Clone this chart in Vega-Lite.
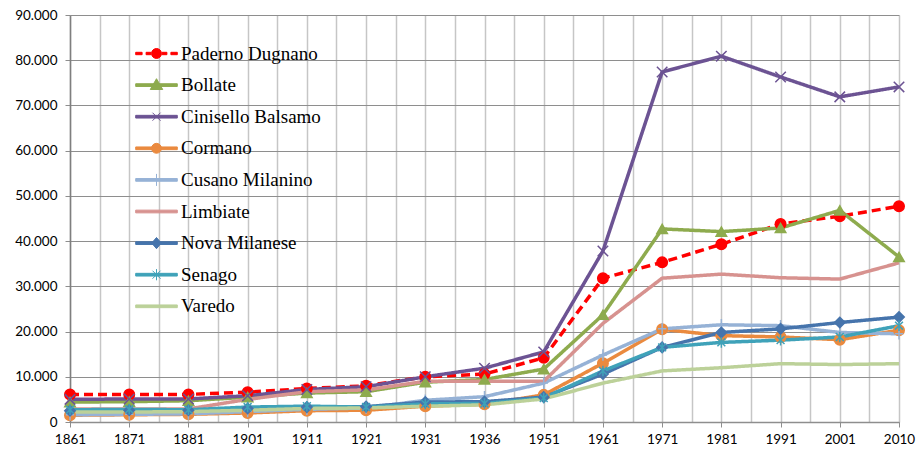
{
  "$schema": "https://vega.github.io/schema/vega-lite/v6.json",
  "width": 829,
  "height": 407,
  "autosize": {"type": "none"},
  "padding": {"left": 70, "top": 15, "right": 18, "bottom": 28},
  "background": "white",
  "config": {
    "view": {"stroke": null},
    "legend": {"labelFont": "Liberation Serif", "labelFontSize": 19, "labelColor": "#000000"},
    "locale": {"number": {"decimal": ",", "thousands": ".", "grouping": [3], "currency": ["", " €"]}}
  },
  "datasets": {
    "pop": [
      {"city": "Paderno Dugnano", "year": "1861", "pop": 6100}, {"city": "Paderno Dugnano", "year": "1871", "pop": 6100}, {"city": "Paderno Dugnano", "year": "1881", "pop": 6100}, {"city": "Paderno Dugnano", "year": "1901", "pop": 6600}, {"city": "Paderno Dugnano", "year": "1911", "pop": 7400}, {"city": "Paderno Dugnano", "year": "1921", "pop": 8000}, {"city": "Paderno Dugnano", "year": "1931", "pop": 10000}, {"city": "Paderno Dugnano", "year": "1936", "pop": 10600}, {"city": "Paderno Dugnano", "year": "1951", "pop": 14200}, {"city": "Paderno Dugnano", "year": "1961", "pop": 31800}, {"city": "Paderno Dugnano", "year": "1971", "pop": 35300}, {"city": "Paderno Dugnano", "year": "1981", "pop": 39300}, {"city": "Paderno Dugnano", "year": "1991", "pop": 43800}, {"city": "Paderno Dugnano", "year": "2001", "pop": 45500}, {"city": "Paderno Dugnano", "year": "2010", "pop": 47700},
      {"city": "Bollate", "year": "1861", "pop": 4400}, {"city": "Bollate", "year": "1871", "pop": 4500}, {"city": "Bollate", "year": "1881", "pop": 4700}, {"city": "Bollate", "year": "1901", "pop": 5500}, {"city": "Bollate", "year": "1911", "pop": 6400}, {"city": "Bollate", "year": "1921", "pop": 6700}, {"city": "Bollate", "year": "1931", "pop": 8800}, {"city": "Bollate", "year": "1936", "pop": 9400}, {"city": "Bollate", "year": "1951", "pop": 11700}, {"city": "Bollate", "year": "1961", "pop": 23700}, {"city": "Bollate", "year": "1971", "pop": 42700}, {"city": "Bollate", "year": "1981", "pop": 42100}, {"city": "Bollate", "year": "1991", "pop": 42900}, {"city": "Bollate", "year": "2001", "pop": 46800}, {"city": "Bollate", "year": "2010", "pop": 36500},
      {"city": "Cinisello Balsamo", "year": "1861", "pop": 5000}, {"city": "Cinisello Balsamo", "year": "1871", "pop": 5100}, {"city": "Cinisello Balsamo", "year": "1881", "pop": 5100}, {"city": "Cinisello Balsamo", "year": "1901", "pop": 5800}, {"city": "Cinisello Balsamo", "year": "1911", "pop": 7200}, {"city": "Cinisello Balsamo", "year": "1921", "pop": 7800}, {"city": "Cinisello Balsamo", "year": "1931", "pop": 10000}, {"city": "Cinisello Balsamo", "year": "1936", "pop": 11900}, {"city": "Cinisello Balsamo", "year": "1951", "pop": 15500}, {"city": "Cinisello Balsamo", "year": "1961", "pop": 37800}, {"city": "Cinisello Balsamo", "year": "1971", "pop": 77400}, {"city": "Cinisello Balsamo", "year": "1981", "pop": 80900}, {"city": "Cinisello Balsamo", "year": "1991", "pop": 76300}, {"city": "Cinisello Balsamo", "year": "2001", "pop": 71900}, {"city": "Cinisello Balsamo", "year": "2010", "pop": 74100},
      {"city": "Cormano", "year": "1861", "pop": 1500}, {"city": "Cormano", "year": "1871", "pop": 1600}, {"city": "Cormano", "year": "1881", "pop": 1700}, {"city": "Cormano", "year": "1901", "pop": 2000}, {"city": "Cormano", "year": "1911", "pop": 2500}, {"city": "Cormano", "year": "1921", "pop": 2600}, {"city": "Cormano", "year": "1931", "pop": 3500}, {"city": "Cormano", "year": "1936", "pop": 3900}, {"city": "Cormano", "year": "1951", "pop": 6000}, {"city": "Cormano", "year": "1961", "pop": 13000}, {"city": "Cormano", "year": "1971", "pop": 20500}, {"city": "Cormano", "year": "1981", "pop": 19100}, {"city": "Cormano", "year": "1991", "pop": 18800}, {"city": "Cormano", "year": "2001", "pop": 18200}, {"city": "Cormano", "year": "2010", "pop": 20300},
      {"city": "Cusano Milanino", "year": "1861", "pop": 1600}, {"city": "Cusano Milanino", "year": "1871", "pop": 1700}, {"city": "Cusano Milanino", "year": "1881", "pop": 1800}, {"city": "Cusano Milanino", "year": "1901", "pop": 2300}, {"city": "Cusano Milanino", "year": "1911", "pop": 2800}, {"city": "Cusano Milanino", "year": "1921", "pop": 3100}, {"city": "Cusano Milanino", "year": "1931", "pop": 4800}, {"city": "Cusano Milanino", "year": "1936", "pop": 5600}, {"city": "Cusano Milanino", "year": "1951", "pop": 8600}, {"city": "Cusano Milanino", "year": "1961", "pop": 14800}, {"city": "Cusano Milanino", "year": "1971", "pop": 20600}, {"city": "Cusano Milanino", "year": "1981", "pop": 21500}, {"city": "Cusano Milanino", "year": "1991", "pop": 21300}, {"city": "Cusano Milanino", "year": "2001", "pop": 19800}, {"city": "Cusano Milanino", "year": "2010", "pop": 19500},
      {"city": "Limbiate", "year": "1861", "pop": 2900}, {"city": "Limbiate", "year": "1871", "pop": 2900}, {"city": "Limbiate", "year": "1881", "pop": 2900}, {"city": "Limbiate", "year": "1901", "pop": 5000}, {"city": "Limbiate", "year": "1911", "pop": 6700}, {"city": "Limbiate", "year": "1921", "pop": 7100}, {"city": "Limbiate", "year": "1931", "pop": 9000}, {"city": "Limbiate", "year": "1936", "pop": 9000}, {"city": "Limbiate", "year": "1951", "pop": 9000}, {"city": "Limbiate", "year": "1961", "pop": 21800}, {"city": "Limbiate", "year": "1971", "pop": 31800}, {"city": "Limbiate", "year": "1981", "pop": 32700}, {"city": "Limbiate", "year": "1991", "pop": 31900}, {"city": "Limbiate", "year": "2001", "pop": 31600}, {"city": "Limbiate", "year": "2010", "pop": 35200},
      {"city": "Nova Milanese", "year": "1861", "pop": 2500}, {"city": "Nova Milanese", "year": "1871", "pop": 2600}, {"city": "Nova Milanese", "year": "1881", "pop": 2600}, {"city": "Nova Milanese", "year": "1901", "pop": 3000}, {"city": "Nova Milanese", "year": "1911", "pop": 3300}, {"city": "Nova Milanese", "year": "1921", "pop": 3400}, {"city": "Nova Milanese", "year": "1931", "pop": 4400}, {"city": "Nova Milanese", "year": "1936", "pop": 4500}, {"city": "Nova Milanese", "year": "1951", "pop": 5500}, {"city": "Nova Milanese", "year": "1961", "pop": 10600}, {"city": "Nova Milanese", "year": "1971", "pop": 16500}, {"city": "Nova Milanese", "year": "1981", "pop": 19800}, {"city": "Nova Milanese", "year": "1991", "pop": 20600}, {"city": "Nova Milanese", "year": "2001", "pop": 22000}, {"city": "Nova Milanese", "year": "2010", "pop": 23200},
      {"city": "Senago", "year": "1861", "pop": 2700}, {"city": "Senago", "year": "1871", "pop": 2800}, {"city": "Senago", "year": "1881", "pop": 2700}, {"city": "Senago", "year": "1901", "pop": 3300}, {"city": "Senago", "year": "1911", "pop": 3500}, {"city": "Senago", "year": "1921", "pop": 3300}, {"city": "Senago", "year": "1931", "pop": 4000}, {"city": "Senago", "year": "1936", "pop": 4100}, {"city": "Senago", "year": "1951", "pop": 5300}, {"city": "Senago", "year": "1961", "pop": 11300}, {"city": "Senago", "year": "1971", "pop": 16500}, {"city": "Senago", "year": "1981", "pop": 17600}, {"city": "Senago", "year": "1991", "pop": 18100}, {"city": "Senago", "year": "2001", "pop": 18800}, {"city": "Senago", "year": "2010", "pop": 21300},
      {"city": "Varedo", "year": "1861", "pop": 2200}, {"city": "Varedo", "year": "1871", "pop": 2200}, {"city": "Varedo", "year": "1881", "pop": 2300}, {"city": "Varedo", "year": "1901", "pop": 2600}, {"city": "Varedo", "year": "1911", "pop": 3000}, {"city": "Varedo", "year": "1921", "pop": 3100}, {"city": "Varedo", "year": "1931", "pop": 3500}, {"city": "Varedo", "year": "1936", "pop": 3800}, {"city": "Varedo", "year": "1951", "pop": 5100}, {"city": "Varedo", "year": "1961", "pop": 8600}, {"city": "Varedo", "year": "1971", "pop": 11300}, {"city": "Varedo", "year": "1981", "pop": 12000}, {"city": "Varedo", "year": "1991", "pop": 12900}, {"city": "Varedo", "year": "2001", "pop": 12700}, {"city": "Varedo", "year": "2010", "pop": 12900}
    ]
  },
  "data": {"name": "pop"},
  "encoding": {
    "y": {
      "field": "pop", "type": "quantitative",
      "scale": {"domain": [0, 90000], "nice": false, "zero": true},
      "axis": {
        "title": null, "values": [0, 10000, 20000, 30000, 40000, 50000, 60000, 70000, 80000, 90000],
        "format": ",d", "grid": true, "gridColor": "#8E8E8E", "gridWidth": 1,
        "tickColor": "#8E8E8E", "tickSize": 5, "domainColor": "#7F7F7F", "domainWidth": 1.5,
        "labelFont": "Lato", "labelFontSize": 13.5, "labelColor": "#000000", "labelPadding": 8
      }
    }
  },
  "layer": [
    {
      "mark": {"type": "line", "strokeWidth": 3.5, "strokeJoin": "round", "strokeCap": "butt"},
      "encoding": {
        "x": {
          "field": "year", "type": "ordinal",
          "scale": {"type": "point", "padding": 0, "domain": ["1861","1871","1881","1901","1911","1921","1931","1936","1951","1961","1971","1981","1991","2001","2010"]},
          "axis": {
            "orient": "bottom", "title": null, "labelAngle": 0, "grid": true, "gridColor": "#C6C6C6", "gridWidth": 1.5,
            "tickColor": "#8E8E8E", "tickSize": 5, "domainColor": "#8E8E8E", "domainWidth": 1.5,
            "labelFont": "Lato", "labelFontSize": 13.5, "labelColor": "#000000", "labelPadding": 5
          }
        },
        "color": {
          "field": "city", "type": "nominal", "legend": null,
          "scale": {
            "domain": ["Paderno Dugnano","Bollate","Cinisello Balsamo","Cormano","Cusano Milanino","Limbiate","Nova Milanese","Senago","Varedo"],
            "range": ["#FF0000","#8EAB4E","#6C5393","#EA8A3F","#96B2D6","#D7928F","#4674AC","#3FA2B9","#BCD199"]
          }
        },
        "strokeDash": {
          "field": "city", "type": "nominal", "legend": null,
          "scale": {
            "domain": ["Paderno Dugnano","Bollate","Cinisello Balsamo","Cormano","Cusano Milanino","Limbiate","Nova Milanese","Senago","Varedo"],
            "range": [[9,5],[1,0],[1,0],[1,0],[1,0],[1,0],[1,0],[1,0],[1,0]]
          }
        }
      }
    },
    {
      "mark": {"type": "point", "filled": true, "opacity": 1, "strokeWidth": 1.5, "size": 110},
      "encoding": {
        "x": {
          "field": "year", "type": "ordinal",
          "scale": {"type": "point", "padding": 0, "domain": ["1861","1871","1881","1901","1911","1921","1931","1936","1951","1961","1971","1981","1991","2001","2010"]},
          "axis": null
        },
        "fill": {
          "field": "city", "type": "nominal", "legend": null,
          "scale": {
            "domain": ["Paderno Dugnano","Bollate","Cinisello Balsamo","Cormano","Cusano Milanino","Limbiate","Nova Milanese","Senago","Varedo"],
            "range": ["#FF0000","#8EAB4E","#6C5393","#EA8A3F","#96B2D6","#D7928F","#4674AC","#3FA2B9","#BCD199"]
          }
        },
        "stroke": {
          "field": "city", "type": "nominal", "legend": null,
          "scale": {
            "domain": ["Paderno Dugnano","Bollate","Cinisello Balsamo","Cormano","Cusano Milanino","Limbiate","Nova Milanese","Senago","Varedo"],
            "range": ["#FF0000","#8EAB4E","#6C5393","#EA8A3F","#96B2D6","#D7928F","#4674AC","#3FA2B9","#BCD199"]
          }
        },
        "shape": {
          "field": "city", "type": "nominal", "legend": null,
          "scale": {
            "domain": ["Paderno Dugnano","Bollate","Cinisello Balsamo","Cormano","Cusano Milanino","Limbiate","Nova Milanese","Senago","Varedo"],
            "range": ["circle","triangle-up","M-1,-1L1,1M-1,1L1,-1","circle","M0,-1.1L0,1.1M-0.8,0L0.8,0","M0,0Z","diamond","M-0.75,-0.75L0.75,0.75M-0.75,0.75L0.75,-0.75M0,-1L0,1","M0,0Z"]
          }
        }
      }
    },
    {
      "transform": [{"filter": "datum.pop < 0"}],
      "mark": {"type": "point", "filled": true, "opacity": 1},
      "encoding": {
        "x": {
          "field": "year", "type": "ordinal",
          "scale": {"type": "point", "padding": 0, "domain": ["1861","1871","1881","1901","1911","1921","1931","1936","1951","1961","1971","1981","1991","2001","2010"]},
          "axis": {
            "orient": "bottom", "title": null, "labels": false, "ticks": false, "domain": false,
            "values": ["1861","1871","1881","1901","1911","1921","1931","1936","1951","1961","1971","1981","1991","2001"],
            "tickOffset": 29.607, "grid": true, "gridColor": "#C6C6C6", "gridWidth": 1.5
          }
        },
        "fill": {
          "field": "city", "type": "nominal",
          "scale": {
            "domain": ["Paderno Dugnano","Bollate","Cinisello Balsamo","Cormano","Cusano Milanino","Limbiate","Nova Milanese","Senago","Varedo"],
            "range": ["#FF0000","#8EAB4E","#6C5393","#EA8A3F","#96B2D6","#D7928F","#4674AC","#3FA2B9","#BCD199"]
          },
          "legend": {"title": null, "orient": "none", "legendX": 77, "legendY": 29, "symbolSize": 256, "symbolStrokeWidth": 1, "labelFont": "Liberation Serif", "labelFontSize": 19, "labelColor": "#000000", "labelOffset": 15, "rowPadding": 11.6, "padding": 0, "labelLimit": 400}
        },
        "stroke": {
          "field": "city", "type": "nominal",
          "scale": {
            "domain": ["Paderno Dugnano","Bollate","Cinisello Balsamo","Cormano","Cusano Milanino","Limbiate","Nova Milanese","Senago","Varedo"],
            "range": ["#FF0000","#8EAB4E","#6C5393","#EA8A3F","#96B2D6","#D7928F","#4674AC","#3FA2B9","#BCD199"]
          },
          "legend": {"title": null, "orient": "none", "legendX": 77, "legendY": 29, "symbolSize": 256, "symbolStrokeWidth": 1, "labelFont": "Liberation Serif", "labelFontSize": 19, "labelColor": "#000000", "labelOffset": 15, "rowPadding": 11.6, "padding": 0, "labelLimit": 400}
        },
        "shape": {
          "field": "city", "type": "nominal",
          "scale": {
            "domain": ["Paderno Dugnano","Bollate","Cinisello Balsamo","Cormano","Cusano Milanino","Limbiate","Nova Milanese","Senago","Varedo"],
            "range": [
              "M-2.6,-0.15H-1.8V0.15H-2.6ZM-1.3,-0.15H-0.7V0.15H-1.3ZM0.7,-0.15H1.3V0.15H0.7ZM1.8,-0.15H2.6V0.15H1.8ZM0.62,0A0.62,0.62,0,1,1,-0.62,0A0.62,0.62,0,1,1,0.62,0Z",
              "M-2.6,-0.17H2.6V0.17H-2.6ZM0,-0.8L0.78,0.55L-0.78,0.55Z",
              "M-2.6,-0.17H2.6V0.17H-2.6ZM-0.5,-0.5L0.5,0.5M-0.5,0.5L0.5,-0.5",
              "M-2.6,-0.17H2.6V0.17H-2.6ZM0.62,0A0.62,0.62,0,1,1,-0.62,0A0.62,0.62,0,1,1,0.62,0Z",
              "M-2.6,-0.17H2.6V0.17H-2.6ZM0,-0.75L0,0.75",
              "M-2.6,-0.17H2.6V0.17H-2.6Z",
              "M-2.6,-0.17H2.6V0.17H-2.6ZM0,-0.7L0.6,0L0,0.7L-0.6,0Z",
              "M-2.6,-0.17H2.6V0.17H-2.6ZM-0.5,-0.5L0.5,0.5M-0.5,0.5L0.5,-0.5M0,-0.7L0,0.7",
              "M-2.6,-0.17H2.6V0.17H-2.6Z"
            ]
          },
          "legend": {"title": null, "orient": "none", "legendX": 77, "legendY": 29, "symbolSize": 256, "symbolStrokeWidth": 1, "labelFont": "Liberation Serif", "labelFontSize": 19, "labelColor": "#000000", "labelOffset": 15, "rowPadding": 11.6, "padding": 0, "labelLimit": 400}
        }
      }
    }
  ],
  "resolve": {
    "scale": {"color": "independent", "fill": "independent", "stroke": "independent", "shape": "independent", "strokeDash": "independent"},
    "axis": {"x": "independent"}
  }
}
